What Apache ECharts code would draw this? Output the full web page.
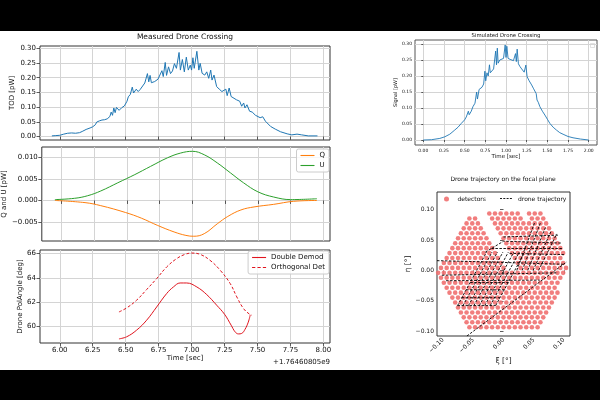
<!DOCTYPE html>
<html>
<head>
<meta charset="utf-8">
<script src="https://cdn.jsdelivr.net/npm/echarts@6/dist/echarts.min.js"></script>
<style>html,body{margin:0;padding:0;background:#000}#main{width:600px;height:400px}</style>
</head>
<body>
<div id="main"></div>
<script>
var myChart = echarts.init(document.getElementById('main'));

// measured TOD (time offset from 1.76460805e9)
var todTime = [5.94,5.97,6.00,6.03,6.06,6.09,6.12,6.15,6.17,6.20,
  6.23,6.25,6.27,6.28,6.29,6.30,6.32,6.34,6.36,6.38,
  6.39,6.40,6.41,6.42,6.43,6.45,6.47,6.49,6.51,6.52,
  6.535,6.55,6.56,6.58,6.595,6.61,6.625,6.645,6.665,6.675,
  6.685,6.695,6.72,6.745,6.76,6.775,6.785,6.80,6.81,6.825,
  6.84,6.855,6.87,6.885,6.905,6.915,6.93,6.945,6.96,6.975,
  6.99,7.00,7.01,7.02,7.04,7.055,7.065,7.08,7.10,7.115,
  7.13,7.145,7.155,7.17,7.19,7.21,7.23,7.245,7.26,7.27,
  7.285,7.30,7.315,7.34,7.365,7.38,7.395,7.405,7.42,7.44,
  7.46,7.485,7.50,7.52,7.54,7.56,7.575,7.60,7.635,7.675,
  7.725,7.76,7.80,7.835,7.885,7.955];
var todVal = [0.002,0.003,0.004,0.008,0.011,0.012,0.011,0.013,0.017,0.024,
  0.029,0.033,0.040,0.049,0.045,0.053,0.056,0.057,0.060,0.068,
  0.083,0.072,0.097,0.081,0.099,0.089,0.098,0.104,0.120,0.135,
  0.143,0.168,0.148,0.161,0.153,0.160,0.166,0.182,0.214,0.186,
  0.208,0.183,0.187,0.195,0.199,0.224,0.204,0.252,0.208,0.237,
  0.214,0.223,0.248,0.232,0.286,0.226,0.262,0.220,0.270,0.226,
  0.243,0.226,0.268,0.232,0.290,0.226,0.249,0.215,0.209,0.220,
  0.198,0.226,0.192,0.209,0.170,0.161,0.153,0.148,0.161,0.139,
  0.165,0.136,0.142,0.125,0.120,0.103,0.114,0.097,0.108,0.086,
  0.083,0.072,0.075,0.064,0.067,0.052,0.047,0.034,0.025,0.016,
  0.009,0.0055,0.008,0.0055,0.002,0.002];

var qTime = [5.95,6.18,6.30,6.49,6.61,6.735,6.86,6.95,7.01,7.09,7.19,7.27,7.37,7.47,7.62,7.77,7.95];
var qVal = [0.0000,-0.0005,-0.0012,-0.0028,-0.0041,-0.0058,-0.0073,-0.0081,-0.0083,-0.0077,-0.0054,-0.0037,-0.0022,-0.0015,-0.0009,-0.0002,0.0000];
var uTime = [5.95,6.10,6.20,6.30,6.43,6.56,6.68,6.81,6.91,7.00,7.09,7.19,7.29,7.39,7.50,7.62,7.75,7.95];
var uVal = [0.0002,0.0005,0.0011,0.0022,0.0041,0.0060,0.0079,0.0099,0.0110,0.0114,0.0106,0.0087,0.0064,0.0041,0.0020,0.0008,0.0002,0.0004];

var demodTime = [6.449,6.507,6.583,6.659,6.735,6.811,6.862,6.913,6.963,7.04,7.115,7.19,7.25,7.30,7.33,7.355,7.38,7.405,7.43,7.445];
var demodVal = [58.97,59.14,59.69,60.51,61.60,62.71,63.25,63.58,63.58,63.25,62.62,61.75,61.0,60.1,59.55,59.38,59.42,59.75,60.35,60.95];
var orthoTime = [6.449,6.507,6.583,6.659,6.735,6.811,6.887,6.95,7.0,7.065,7.14,7.217,7.293,7.343,7.394,7.44,7.457];
var orthoVal = [61.19,61.52,62.16,63.04,63.94,64.90,65.59,65.94,66.05,65.94,65.45,64.63,63.53,62.43,61.47,61.00,60.92];

// simulated crossing
var simTime = [0.00,0.10,0.20,0.26,0.32,0.38,0.42,0.46,0.50,0.52,
  0.545,0.555,0.58,0.60,0.625,0.645,0.655,0.675,0.69,0.71,
  0.73,0.745,0.755,0.77,0.785,0.80,0.81,0.83,0.85,0.875,
  0.885,0.895,0.905,0.925,0.945,0.97,0.99,1.00,1.01,1.025,
  1.05,1.07,1.09,1.115,1.125,1.135,1.15,1.17,1.19,1.22,
  1.24,1.255,1.28,1.31,1.33,1.35,1.365,1.375,1.39,1.41,
  1.44,1.47,1.50,1.53,1.57,1.61,1.65,1.69,1.75,1.81,
  1.90,2.00];
var simVal = [0.000,0.001,0.005,0.010,0.018,0.031,0.040,0.052,0.063,0.072,
  0.090,0.079,0.090,0.104,0.115,0.150,0.128,0.158,0.152,0.165,
  0.175,0.215,0.185,0.210,0.200,0.235,0.210,0.215,0.222,0.278,
  0.235,0.287,0.240,0.250,0.252,0.255,0.297,0.258,0.293,0.255,
  0.252,0.250,0.248,0.270,0.245,0.284,0.238,0.229,0.222,0.212,
  0.234,0.198,0.185,0.172,0.162,0.156,0.145,0.125,0.118,0.104,
  0.090,0.078,0.065,0.052,0.040,0.031,0.023,0.018,0.011,0.007,
  0.003,0.000];

// detectors: hex lattice, row 0 at top; columns are half-pitch steps from the left
var detRowTop = 0.0936, detRowStep = 0.00814;
var detColLeft = -0.1081, detColStep = 0.0047;
var detRows = [
  [[18,28],[32,36]],
  [[11,13],[19,29],[33,37]],
  [[10,14],[20,38]],
  [[9,15],[21,39]],
  [[8,16],[22,40]],
  [[7,17],[23,41]],
  [[6,18],[24,42]],
  [[5,19],[25,43]],
  [[4,20],[26,44]],
  [[3,21],[27,43]],
  [[2,22],[28,44]],
  [[1,23],[29,45]],
  [[0,44]],
  [[1,43]],
  [[2,42]],
  [[3,41]],
  [[4,42]],
  [[5,41]],
  [[6,40]],
  [[7,39]],
  [[8,38]],
  [[9,37]],
  [[10,36]],
  [[11,35]]
];

// drone trajectory, dashed polylines [xi, eta]
var trajPaths = [
  [[-0.0605,-0.108],[0.1045,0.014]],
  [[-0.110,0.016],[-0.03,0.014],[0.100,0.010]],
  [[-0.102,-0.008],[0.090,-0.004]],
  [[-0.095,-0.017],[0.060,-0.016]],
  [[-0.076,-0.058],[-0.028,0.030]],
  [[-0.067,-0.058],[-0.019,0.030]],
  [[-0.058,-0.058],[-0.010,0.030]],
  [[-0.049,-0.058],[-0.001,0.030]],
  [[-0.040,-0.058],[0.008,0.030]],
  [[-0.031,-0.058],[0.017,0.030]],
  [[-0.022,-0.058],[0.026,0.030]],
  [[-0.013,-0.058],[0.035,0.030]],
  [[-0.076,-0.058],[-0.013,-0.058]],
  [[-0.069,-0.045],[-0.006,-0.045]],
  [[-0.062,-0.032],[0.001,-0.032]],
  [[-0.055,-0.020],[0.008,-0.020]],
  [[-0.030,0.030],[0.000,0.048],[0.095,0.045]],
  [[-0.020,0.036],[0.098,0.036]],
  [[0.000,0.055],[0.090,0.058]],
  [[0.010,0.028],[0.100,0.026]],
  [[0.022,0.000],[0.052,0.080]],
  [[0.031,0.000],[0.061,0.078]],
  [[0.040,0.000],[0.070,0.072]],
  [[0.049,0.000],[0.079,0.065]],
  [[0.058,0.000],[0.088,0.060]]
];

var timeTicks = [6.00,6.25,6.50,6.75,7.00,7.25,7.50,7.75,8.00];
var todTicks = [0,0.05,0.10,0.15,0.20,0.25,0.30];
var quTicks = [-0.005,0,0.005,0.010];
var angTicks = [60,62,64,66];
var simXTicks = [0,0.25,0.5,0.75,1.0,1.25,1.5,1.75,2.0];
var simYTicks = [0,0.05,0.10,0.15,0.20,0.25,0.30];
var fpTicks = [-0.10,-0.05,0,0.05,0.10];

function zip(a, b) { return a.map(function (v, i) { return [v, b[i]]; }); }
function fmt(d) { return function (v) { return v.toFixed(d).replace('-', '\u2212'); }; }

var detPts = [];
detRows.forEach(function (segs, k) {
  var y = detRowTop - k * detRowStep;
  segs.forEach(function (s) {
    for (var c = s[0]; c <= s[1]; c += 2) detPts.push([detColLeft + c * detColStep, y]);
  });
});

var FONT = 'DejaVu Sans';
var SOLID = 'path://M0,0h14v1.1h-14z';
var DASHED = 'path://M0,0h3v1.1h-3zM5,0h3v1.1h-3zM10,0h3v1.1h-3z';

function axis(o) {
  var fs = o.fs || 7;
  return {
    type: 'value', gridIndex: o.g, min: o.min, max: o.max,
    axisLine: { show: false },
    axisTick: { show: true, inside: false, length: o.tl || 3.5, customValues: o.ticks, lineStyle: { color: '#333', width: 0.8 } },
    axisLabel: { show: o.labels !== false, customValues: o.ticks, formatter: o.fmt, fontSize: fs, color: '#111', fontFamily: FONT, margin: o.m || 4, rotate: o.rot || 0 },
    splitLine: { show: o.split !== false, lineStyle: { color: '#d4d4d4', width: 1 } },
    name: o.name || '', nameLocation: 'middle', nameGap: o.gap || 10,
    nameTextStyle: { fontSize: o.nfs || fs, color: '#111', fontFamily: FONT }
  };
}

var gridStyle = { show: true, borderColor: '#333', borderWidth: 1, backgroundColor: 'transparent' };
var boxLegend = { orient: 'vertical', itemWidth: 14, itemHeight: 6, itemGap: 3,
  padding: [3, 4], borderColor: '#ccc', borderWidth: 1, borderRadius: 2, backgroundColor: 'rgba(255,255,255,0.8)',
  textStyle: { fontSize: 7, fontFamily: FONT, color: '#111' } };

var option = {
  backgroundColor: '#000',
  animation: false,
  grid: [
    Object.assign({ left: 40, top: 46, width: 290, height: 94 }, gridStyle),
    Object.assign({ left: 40, top: 147, width: 290, height: 94 }, gridStyle),
    Object.assign({ left: 40, top: 250, width: 290, height: 93 }, gridStyle),
    Object.assign({ left: 415, top: 40, width: 182, height: 105 }, gridStyle, { borderColor: '#555' }),
    Object.assign({ left: 437, top: 192, width: 133, height: 144 }, gridStyle)
  ],
  xAxis: [
    axis({ g: 0, min: 5.85, max: 8.05, ticks: timeTicks, labels: false }),
    axis({ g: 1, min: 5.85, max: 8.05, ticks: timeTicks, labels: false }),
    axis({ g: 2, min: 5.85, max: 8.05, ticks: timeTicks, fmt: fmt(2), name: 'Time [sec]', gap: 12 }),
    axis({ g: 3, min: -0.1, max: 2.1, ticks: simXTicks, fmt: fmt(2), fs: 4.5, tl: 2, m: 3, name: 'Time [sec]', gap: 8, nfs: 5.5 }),
    axis({ g: 4, min: -0.11, max: 0.11, ticks: fpTicks, fmt: fmt(2), fs: 6, split: false, rot: 45, m: 3, name: '\u03be [\u00b0]', gap: 20, nfs: 7.5 })
  ],
  yAxis: [
    axis({ g: 0, min: -0.012, max: 0.308, ticks: todTicks, fmt: fmt(2), name: 'TOD [pW]', gap: 24 }),
    axis({ g: 1, min: -0.0094, max: 0.0124, ticks: quTicks, fmt: fmt(3), name: 'Q and U [pW]', gap: 33 }),
    axis({ g: 2, min: 58.63, max: 66.3, ticks: angTicks, fmt: fmt(0), name: 'Drone PolAngle [deg]', gap: 16 }),
    axis({ g: 3, min: -0.0156, max: 0.3125, ticks: simYTicks, fmt: fmt(2), fs: 4.5, tl: 2, m: 3, name: 'Signal [pW]', gap: 14, nfs: 5 }),
    axis({ g: 4, min: -0.108, max: 0.129, ticks: fpTicks, fmt: fmt(2), fs: 6, split: false, m: 3, name: '\u03b7 [\u00b0]', gap: 25, nfs: 7.5 })
  ],
  legend: [
    Object.assign({ data: [{ name: 'Q', icon: SOLID }, { name: 'U', icon: SOLID }], right: 271, top: 149 }, boxLegend),
    Object.assign({ data: [{ name: 'Double Demod', icon: SOLID }, { name: 'Orthogonal Det', icon: DASHED }], right: 271, top: 251 }, boxLegend),
    { data: [{ name: 'detectors', icon: 'circle' }], left: 444, top: 196, itemWidth: 12, itemHeight: 5, padding: 0,
      textStyle: { fontSize: 6, fontFamily: FONT, color: '#111' } },
    { data: [{ name: 'drone trajectory', icon: 'rect', itemStyle: { opacity: 0 } }], left: 500, top: 196, itemWidth: 12, itemHeight: 5, padding: 0,
      textStyle: { fontSize: 6, fontFamily: FONT, color: '#111' } }
  ],
  series: [
    { type: 'line', name: 'TOD', xAxisIndex: 0, yAxisIndex: 0, data: zip(todTime, todVal), symbol: 'none', lineStyle: { color: '#1f77b4', width: 1 } },
    { type: 'line', name: 'Q', xAxisIndex: 1, yAxisIndex: 1, data: zip(qTime, qVal), symbol: 'none', smooth: 0.4, color: '#ff7f0e', lineStyle: { color: '#ff7f0e', width: 1 } },
    { type: 'line', name: 'U', xAxisIndex: 1, yAxisIndex: 1, data: zip(uTime, uVal), symbol: 'none', smooth: 0.4, color: '#2ca02c', lineStyle: { color: '#2ca02c', width: 1 } },
    { type: 'line', name: 'Double Demod', xAxisIndex: 2, yAxisIndex: 2, data: zip(demodTime, demodVal), symbol: 'none', smooth: 0.4, color: '#e0141e', lineStyle: { color: '#e0141e', width: 1 } },
    { type: 'line', name: 'Orthogonal Det', xAxisIndex: 2, yAxisIndex: 2, data: zip(orthoTime, orthoVal), symbol: 'none', smooth: 0.4, color: '#e0141e', lineStyle: { color: '#e0141e', width: 1, type: [3, 2] } },
    { type: 'line', name: 'sim', xAxisIndex: 3, yAxisIndex: 3, data: zip(simTime, simVal), symbol: 'none', lineStyle: { color: '#1f77b4', width: 0.9 } },
    { type: 'scatter', name: 'detectors', xAxisIndex: 4, yAxisIndex: 4, data: detPts, symbolSize: 4.6, color: '#f07070',
      itemStyle: { color: '#f07070', opacity: 0.9 } },
    { type: 'lines', name: 'drone trajectory', coordinateSystem: 'cartesian2d', xAxisIndex: 4, yAxisIndex: 4, polyline: true,
      data: trajPaths.map(function (p) { return { coords: p }; }), color: '#000',
      lineStyle: { color: '#000', width: 0.9, type: [2.5, 1.5], opacity: 1 }, z: 5 }
  ],
  graphic: [
    { type: 'rect', z: -100, silent: true, shape: { x: 0, y: 31, width: 600, height: 339 }, style: { fill: '#fff' } },
    { type: 'text', x: 185, y: 37, style: { text: 'Measured Drone Crossing', fontSize: 7.5, fontFamily: FONT, fill: '#111', textAlign: 'center', textVerticalAlign: 'middle' } },
    { type: 'text', x: 330, y: 362, style: { text: '+1.76460805e9', fontSize: 7, fontFamily: FONT, fill: '#111', textAlign: 'right', textVerticalAlign: 'middle' } },
    { type: 'text', x: 506, y: 36, style: { text: 'Simulated Drone Crossing', fontSize: 5.3, fontFamily: FONT, fill: '#111', textAlign: 'center', textVerticalAlign: 'middle' } },
    { type: 'rect', shape: { x: 590.5, y: 43.5, width: 4, height: 4 }, style: { fill: '#fff', stroke: '#ccc', lineWidth: 0.6 } },
    { type: 'text', x: 503, y: 179, style: { text: 'Drone trajectory on the focal plane', fontSize: 6, fontFamily: FONT, fill: '#111', textAlign: 'center', textVerticalAlign: 'middle' } },
    { type: 'line', z: 10, shape: { x1: 500, y1: 198.5, x2: 512, y2: 198.5 }, style: { stroke: '#000', lineWidth: 0.9, lineDash: [2, 1.3] } }
  ]
};

myChart.setOption(option);
</script>
</body>
</html>
